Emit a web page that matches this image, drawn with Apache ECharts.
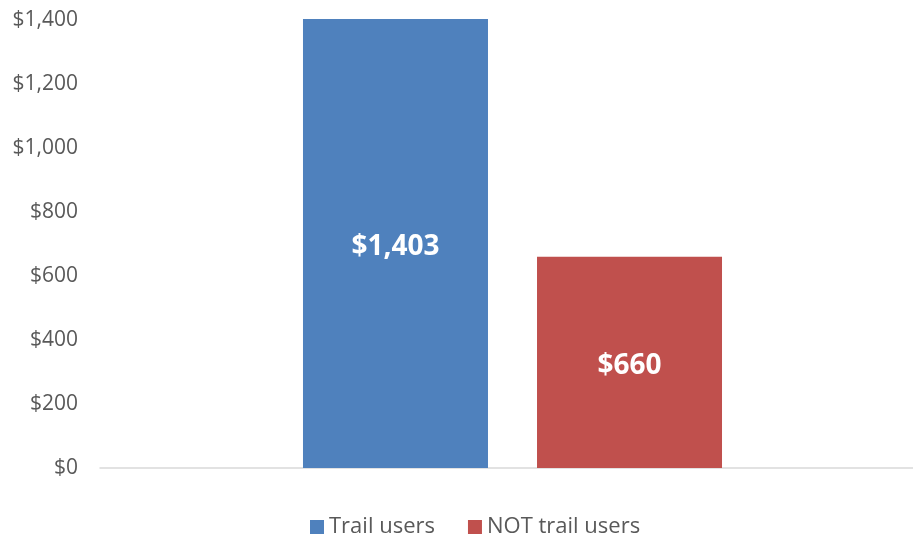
<!DOCTYPE html>
<html>
<head>
<meta charset="utf-8">
<script src="https://cdn.jsdelivr.net/npm/echarts@6/dist/echarts.min.js"></script>
<style>
  html, body { margin: 0; padding: 0; background: #fff; overflow: hidden; }
  #chart { width: 925px; height: 540px; }
</style>
</head>
<body>
<div id="chart"></div>
<script>
// Average annual spending, trail users vs. non-users
const categories = ['Spending'];
const seriesNames = ['Trail users', 'NOT trail users'];
const trailUsers = [1403];
const notTrailUsers = [660];
const yTicks = { min: 0, max: 1400, step: 200 };

const FONT = '"Open Sans", "Noto Sans", sans-serif';
const money = v => '$' + Number(v).toLocaleString('en-US');

const valueLabel = {
  show: true,
  position: 'inside',
  offset: [0, 4],
  color: '#fff',
  fontSize: 28,
  fontWeight: 'bold',
  fontFamily: FONT,
  formatter: p => money(p.value)
};

const chart = echarts.init(document.getElementById('chart'));
chart.setOption({
  animation: false,
  textStyle: { fontFamily: FONT },
  grid: { left: 100, top: 20, right: 0, bottom: 72, containLabel: false },
  legend: {
    bottom: -3,
    left: 305,
    icon: 'rect',
    itemWidth: 14,
    itemHeight: 14,
    itemGap: 33,
    textStyle: { color: '#595959', fontSize: 22, fontFamily: FONT },
    data: seriesNames
  },
  xAxis: {
    type: 'category',
    data: categories,
    axisLine: { lineStyle: { color: '#d9d9d9', width: 1.5 } },
    axisTick: { show: false },
    axisLabel: { show: false }
  },
  yAxis: {
    type: 'value',
    min: yTicks.min,
    max: yTicks.max,
    interval: yTicks.step,
    splitLine: { show: false },
    axisLine: { show: false },
    axisTick: { show: false },
    axisLabel: {
      color: '#595959',
      fontSize: 21,
      margin: 22,
      padding: [4, 0, 0, 0],
      fontFamily: FONT,
      formatter: money
    }
  },
  series: [
    {
      name: seriesNames[0],
      type: 'bar',
      data: trailUsers,
      barWidth: 185,
      barGap: '26.5%',
      clip: false,
      itemStyle: { color: '#4F81BD' },
      label: valueLabel
    },
    {
      name: seriesNames[1],
      type: 'bar',
      data: notTrailUsers,
      barWidth: 185,
      clip: false,
      itemStyle: { color: '#C0504D' },
      label: valueLabel
    }
  ]
});
</script>
</body>
</html>
